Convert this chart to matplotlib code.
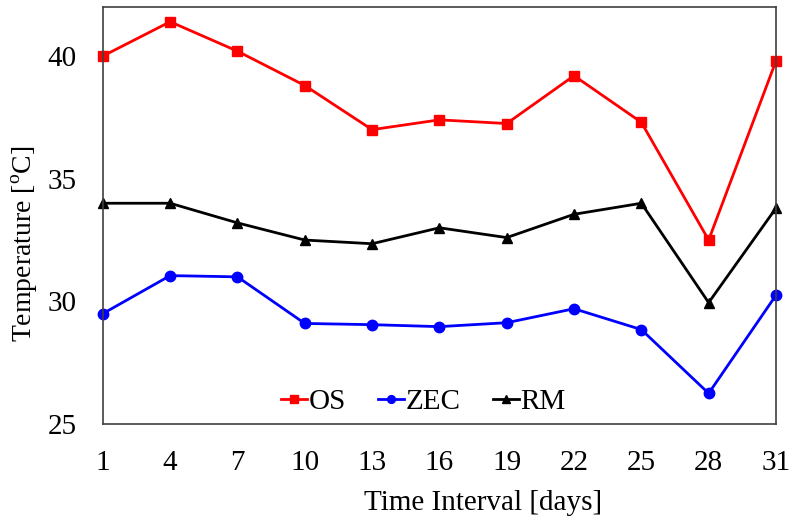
import matplotlib
matplotlib.use("Agg")
import matplotlib.pyplot as plt

plt.rcParams['font.family'] = ['Liberation Serif', 'DejaVu Serif']
plt.rcParams['mathtext.fontset'] = 'custom'
plt.rcParams['mathtext.rm'] = 'Liberation Serif'

# Данные: дни и температуры
days = [1, 4, 7, 10, 13, 16, 19, 22, 25, 28, 31]
os_temp = [40.0, 41.4, 40.2, 38.8, 37.0, 37.4, 37.25, 39.2, 37.3, 32.5, 39.8]
zec_temp = [29.5, 31.05, 31.0, 29.1, 29.05, 28.97, 29.13, 29.7, 28.85, 26.25, 30.25]
rm_temp = [34.0, 34.0, 33.2, 32.5, 32.35, 33.0, 32.6, 33.55, 34.0, 29.95, 33.8]
y_ticks = [25, 30, 35, 40]

fig = plt.figure(figsize=(7.91, 5.19), dpi=100)
ax = fig.add_axes([0.130, 0.183, 0.851, 0.8035])

ax.plot(days, os_temp, color='#ff0000', marker='s', markersize=7.5, linewidth=2.0, label='OS')
ax.plot(days, zec_temp, color='#0000ff', marker='o', markersize=7.5, linewidth=2.0, label='ZEC')
ax.plot(days, rm_temp, color='black', marker='^', markersize=7.5, linewidth=2.0, label='RM')

ax.set_xlim(1, 31)
ax.set_ylim(25, 42)
ax.set_xticks(days)
ax.set_yticks(y_ticks)
ax.tick_params(length=0, labelsize=21)
ax.tick_params(axis='x', pad=19)
ax.tick_params(axis='y', pad=19)

for sp in ax.spines.values():
    sp.set_color('#404040')
    sp.set_linewidth(1.2)
for line in ax.lines:
    line.set_clip_on(False)

# подписи осей смещены как в оригинале
ax.set_xlabel('Time Interval [days]', fontsize=21)
ax.xaxis.set_label_coords(0.565, -0.158)
ax.set_ylabel('Temperature [$^\\mathregular{o}$C]', fontsize=20)
ax.yaxis.set_label_coords(-0.0935, 0.432)

ax.legend(loc='center', bbox_to_anchor=(0.476, 0.053), ncol=3, frameon=False,
          fontsize=21, handlelength=0.9, handletextpad=0.05, columnspacing=1.1,
          markerscale=0.75)

fig.savefig('out.png', dpi=100)
